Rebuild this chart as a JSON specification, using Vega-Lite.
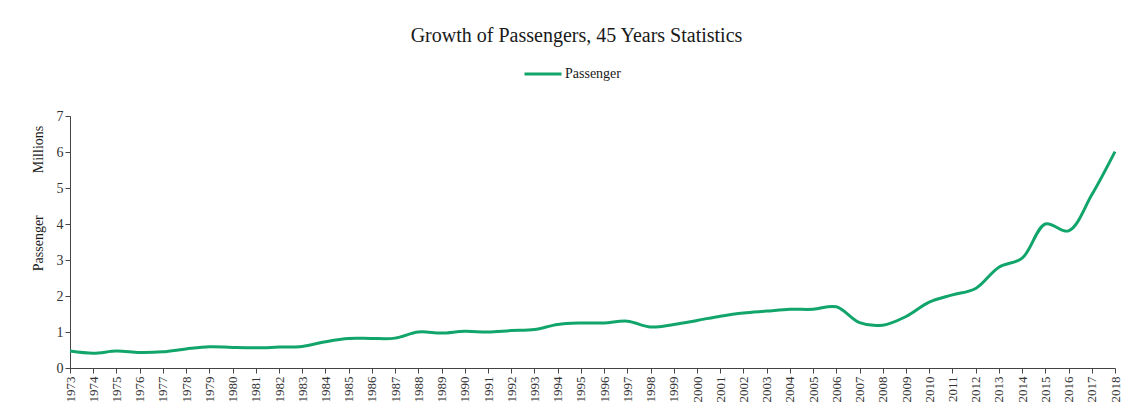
{
  "$schema": "https://vega.github.io/schema/vega-lite/v6.json",
  "width": 1045,
  "height": 252,
  "padding": {"left": 31, "top": 26, "right": 10, "bottom": 0},
  "autosize": {"type": "pad"},
  "title": {"text": "Growth of Passengers, 45 Years Statistics", "font": "Liberation Serif", "fontSize": 20, "fontWeight": "normal", "color": "#1a1a1a", "offset": 8, "frame": "bounds"},
  "data": {"values": [
    {"year": "1973", "passengers": 0.47},
    {"year": "1974", "passengers": 0.41},
    {"year": "1975", "passengers": 0.47},
    {"year": "1976", "passengers": 0.43},
    {"year": "1977", "passengers": 0.45},
    {"year": "1978", "passengers": 0.53},
    {"year": "1979", "passengers": 0.59},
    {"year": "1980", "passengers": 0.57},
    {"year": "1981", "passengers": 0.56},
    {"year": "1982", "passengers": 0.58},
    {"year": "1983", "passengers": 0.60},
    {"year": "1984", "passengers": 0.73},
    {"year": "1985", "passengers": 0.82},
    {"year": "1986", "passengers": 0.82},
    {"year": "1987", "passengers": 0.83},
    {"year": "1988", "passengers": 1.00},
    {"year": "1989", "passengers": 0.97},
    {"year": "1990", "passengers": 1.02},
    {"year": "1991", "passengers": 1.00},
    {"year": "1992", "passengers": 1.04},
    {"year": "1993", "passengers": 1.07},
    {"year": "1994", "passengers": 1.21},
    {"year": "1995", "passengers": 1.25},
    {"year": "1996", "passengers": 1.25},
    {"year": "1997", "passengers": 1.30},
    {"year": "1998", "passengers": 1.14},
    {"year": "1999", "passengers": 1.21},
    {"year": "2000", "passengers": 1.32},
    {"year": "2001", "passengers": 1.44},
    {"year": "2002", "passengers": 1.53},
    {"year": "2003", "passengers": 1.58},
    {"year": "2004", "passengers": 1.63},
    {"year": "2005", "passengers": 1.63},
    {"year": "2006", "passengers": 1.70},
    {"year": "2007", "passengers": 1.26},
    {"year": "2008", "passengers": 1.19},
    {"year": "2009", "passengers": 1.43},
    {"year": "2010", "passengers": 1.83},
    {"year": "2011", "passengers": 2.03},
    {"year": "2012", "passengers": 2.21},
    {"year": "2013", "passengers": 2.80},
    {"year": "2014", "passengers": 3.05},
    {"year": "2015", "passengers": 4.00},
    {"year": "2016", "passengers": 3.81},
    {"year": "2017", "passengers": 4.81},
    {"year": "2018", "passengers": 6.01}
  ]},
  "mark": {"type": "line", "interpolate": "catmull-rom", "strokeWidth": 3},
  "encoding": {
    "x": {
      "field": "year", "type": "ordinal",
      "scale": {"type": "point", "padding": 0},
      "axis": {"title": null, "labelAngle": 270, "labelFont": "Liberation Serif", "labelFontSize": 13, "labelColor": "#333", "tickColor": "#444", "domainColor": "#444", "tickSize": 5, "labelPadding": 3, "grid": false}
    },
    "y": {
      "field": "passengers", "type": "quantitative",
      "scale": {"domain": [0, 7], "nice": false},
      "axis": {"values": [0, 1, 2, 3, 4, 5, 6, 7], "title": "Passenger\u00a0\u00a0\u00a0\u00a0\u00a0\u00a0\u00a0\u00a0\u00a0\u00a0\u00a0\u00a0Millions", "titleFont": "Liberation Serif", "titleFontSize": 14, "titleFontWeight": "normal", "titleColor": "#1a1a1a", "titleY": 82, "titleX": -25, "labelFont": "Liberation Serif", "labelFontSize": 14, "labelColor": "#333", "tickColor": "#444", "domainColor": "#444", "tickSize": 5, "grid": false}
    },
    "color": {
      "datum": "Passenger",
      "scale": {"range": ["#12a56b"]},
      "legend": {"orient": "none", "legendX": 453, "legendY": -62, "direction": "horizontal", "title": null, "labelFont": "Liberation Serif", "labelFontSize": 14, "labelColor": "#1a1a1a", "labelOffset": 2, "symbolType": "stroke", "symbolStrokeWidth": 3, "symbolSize": 1369}
    }
  },
  "config": {"view": {"stroke": null}, "title": {"anchor": "middle"}}
}
